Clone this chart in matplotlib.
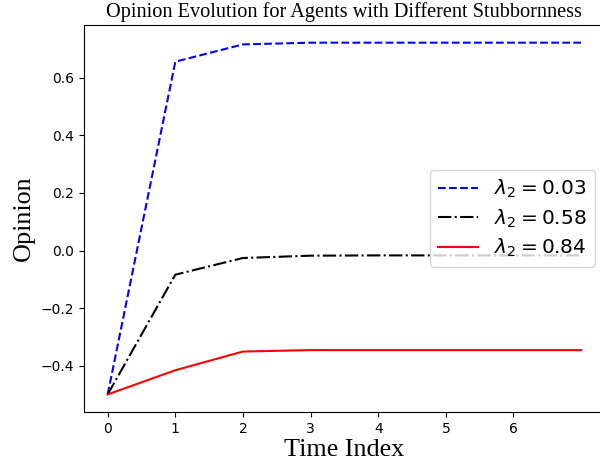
import numpy as np
import matplotlib
matplotlib.use("Agg")
import matplotlib.pyplot as plt

time_index = [0, 1, 2, 3, 4, 5, 6, 7]
opinion_low = [-0.5, 0.656, 0.716, 0.722, 0.722, 0.722, 0.722, 0.722]
opinion_mid = [-0.5, -0.084, -0.026, -0.018, -0.017, -0.017, -0.017, -0.017]
opinion_high = [-0.5, -0.416, -0.351, -0.346, -0.346, -0.346, -0.346, -0.346]
labels = [r"$\lambda_2 = 0.03$", r"$\lambda_2 = 0.58$", r"$\lambda_2 = 0.84$"]

fig = plt.figure(figsize=(6, 4.69), dpi=100)
ax = fig.add_axes([0.14, 0.1215, 0.868, 0.825])

ax.plot(time_index, opinion_low, "b--", linewidth=1.5, label=labels[0])
ax.plot(time_index, opinion_mid, "k-.", linewidth=1.5, label=labels[1])
ax.plot(time_index, opinion_high, "r-", linewidth=1.5, label=labels[2])

ax.set_xticks(range(7))
ax.spines["right"].set_visible(False)
ax.set_title("Opinion Evolution for Agents with Different Stubbornness",
             fontsize=14.6, family="Liberation Serif")
ax.set_xlabel("Time Index", fontsize=18.8, family="Liberation Serif", labelpad=2)
ax.set_ylabel("Opinion", fontsize=18.8, family="Liberation Serif")
ax.legend(loc="center right", fontsize=14.5, labelspacing=0.35)

fig.savefig("out.png", dpi=100)
